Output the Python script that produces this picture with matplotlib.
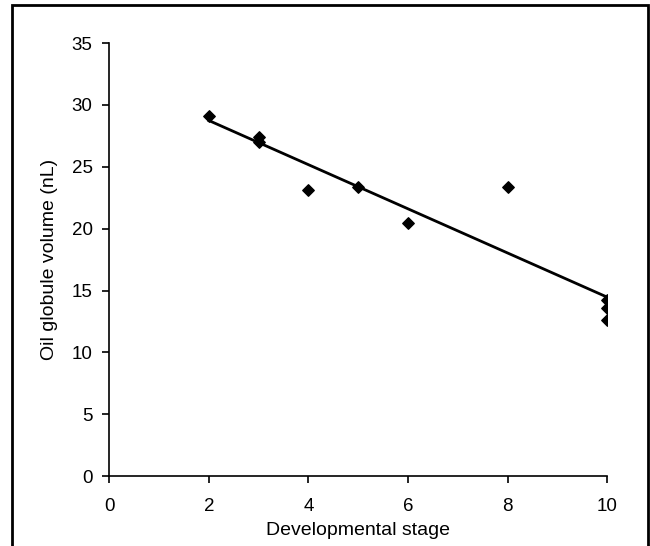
import numpy as np
import matplotlib
matplotlib.use("Agg")
import matplotlib.pyplot as plt
from matplotlib.patches import Rectangle

# ----------------------------
# Data
# ----------------------------
stage = [2, 3, 3, 4, 5, 6, 8, 10, 10, 10]
volume = [29.1, 27.4, 27.0, 23.1, 23.4, 20.5, 23.4, 14.2, 13.6, 12.6]

x_ticks = [0, 2, 4, 6, 8, 10]
y_ticks = [0, 5, 10, 15, 20, 25, 30, 35]

plt.rcParams["font.family"] = ["Liberation Sans", "DejaVu Sans"]

fig = plt.figure(figsize=(6.5, 5.46), dpi=100)
ax = fig.add_axes([0.168, 0.128, 0.766, 0.793])

# linear trend line over the data range
slope, intercept = np.polyfit(stage, volume, 1)
fit_x = np.array([min(stage), max(stage)])
ax.plot(fit_x, slope * fit_x + intercept, color="black", lw=2)

ax.scatter(stage, volume, marker="D", s=34, color="black", zorder=3)

ax.set_xlim(0, 10)
ax.set_ylim(0, 35)
ax.set_xticks(x_ticks)
ax.set_yticks(y_ticks)
ax.spines["top"].set_visible(False)
ax.spines["right"].set_visible(False)
ax.spines["left"].set_linewidth(1.2)
ax.spines["bottom"].set_linewidth(1.2)
ax.tick_params(direction="out", length=5, width=1.2, labelsize=13.5)
ax.tick_params(axis="x", pad=11)
ax.tick_params(axis="y", pad=7)
ax.set_xlabel("Developmental stage", fontsize=14, labelpad=5)
ax.set_ylabel("Oil globule volume (nL)", fontsize=14, labelpad=10)
for spine in ax.spines.values():
    spine.set_clip_on(False)

# frame around the figure (bottom edge is cut off in the original)
fig.patches.append(Rectangle((12 / 650, -0.05), 636 / 650, 1.05 - 5 / 546,
                             transform=fig.transFigure, fill=False,
                             edgecolor="black", lw=2))

fig.savefig("out.png", dpi=100)
